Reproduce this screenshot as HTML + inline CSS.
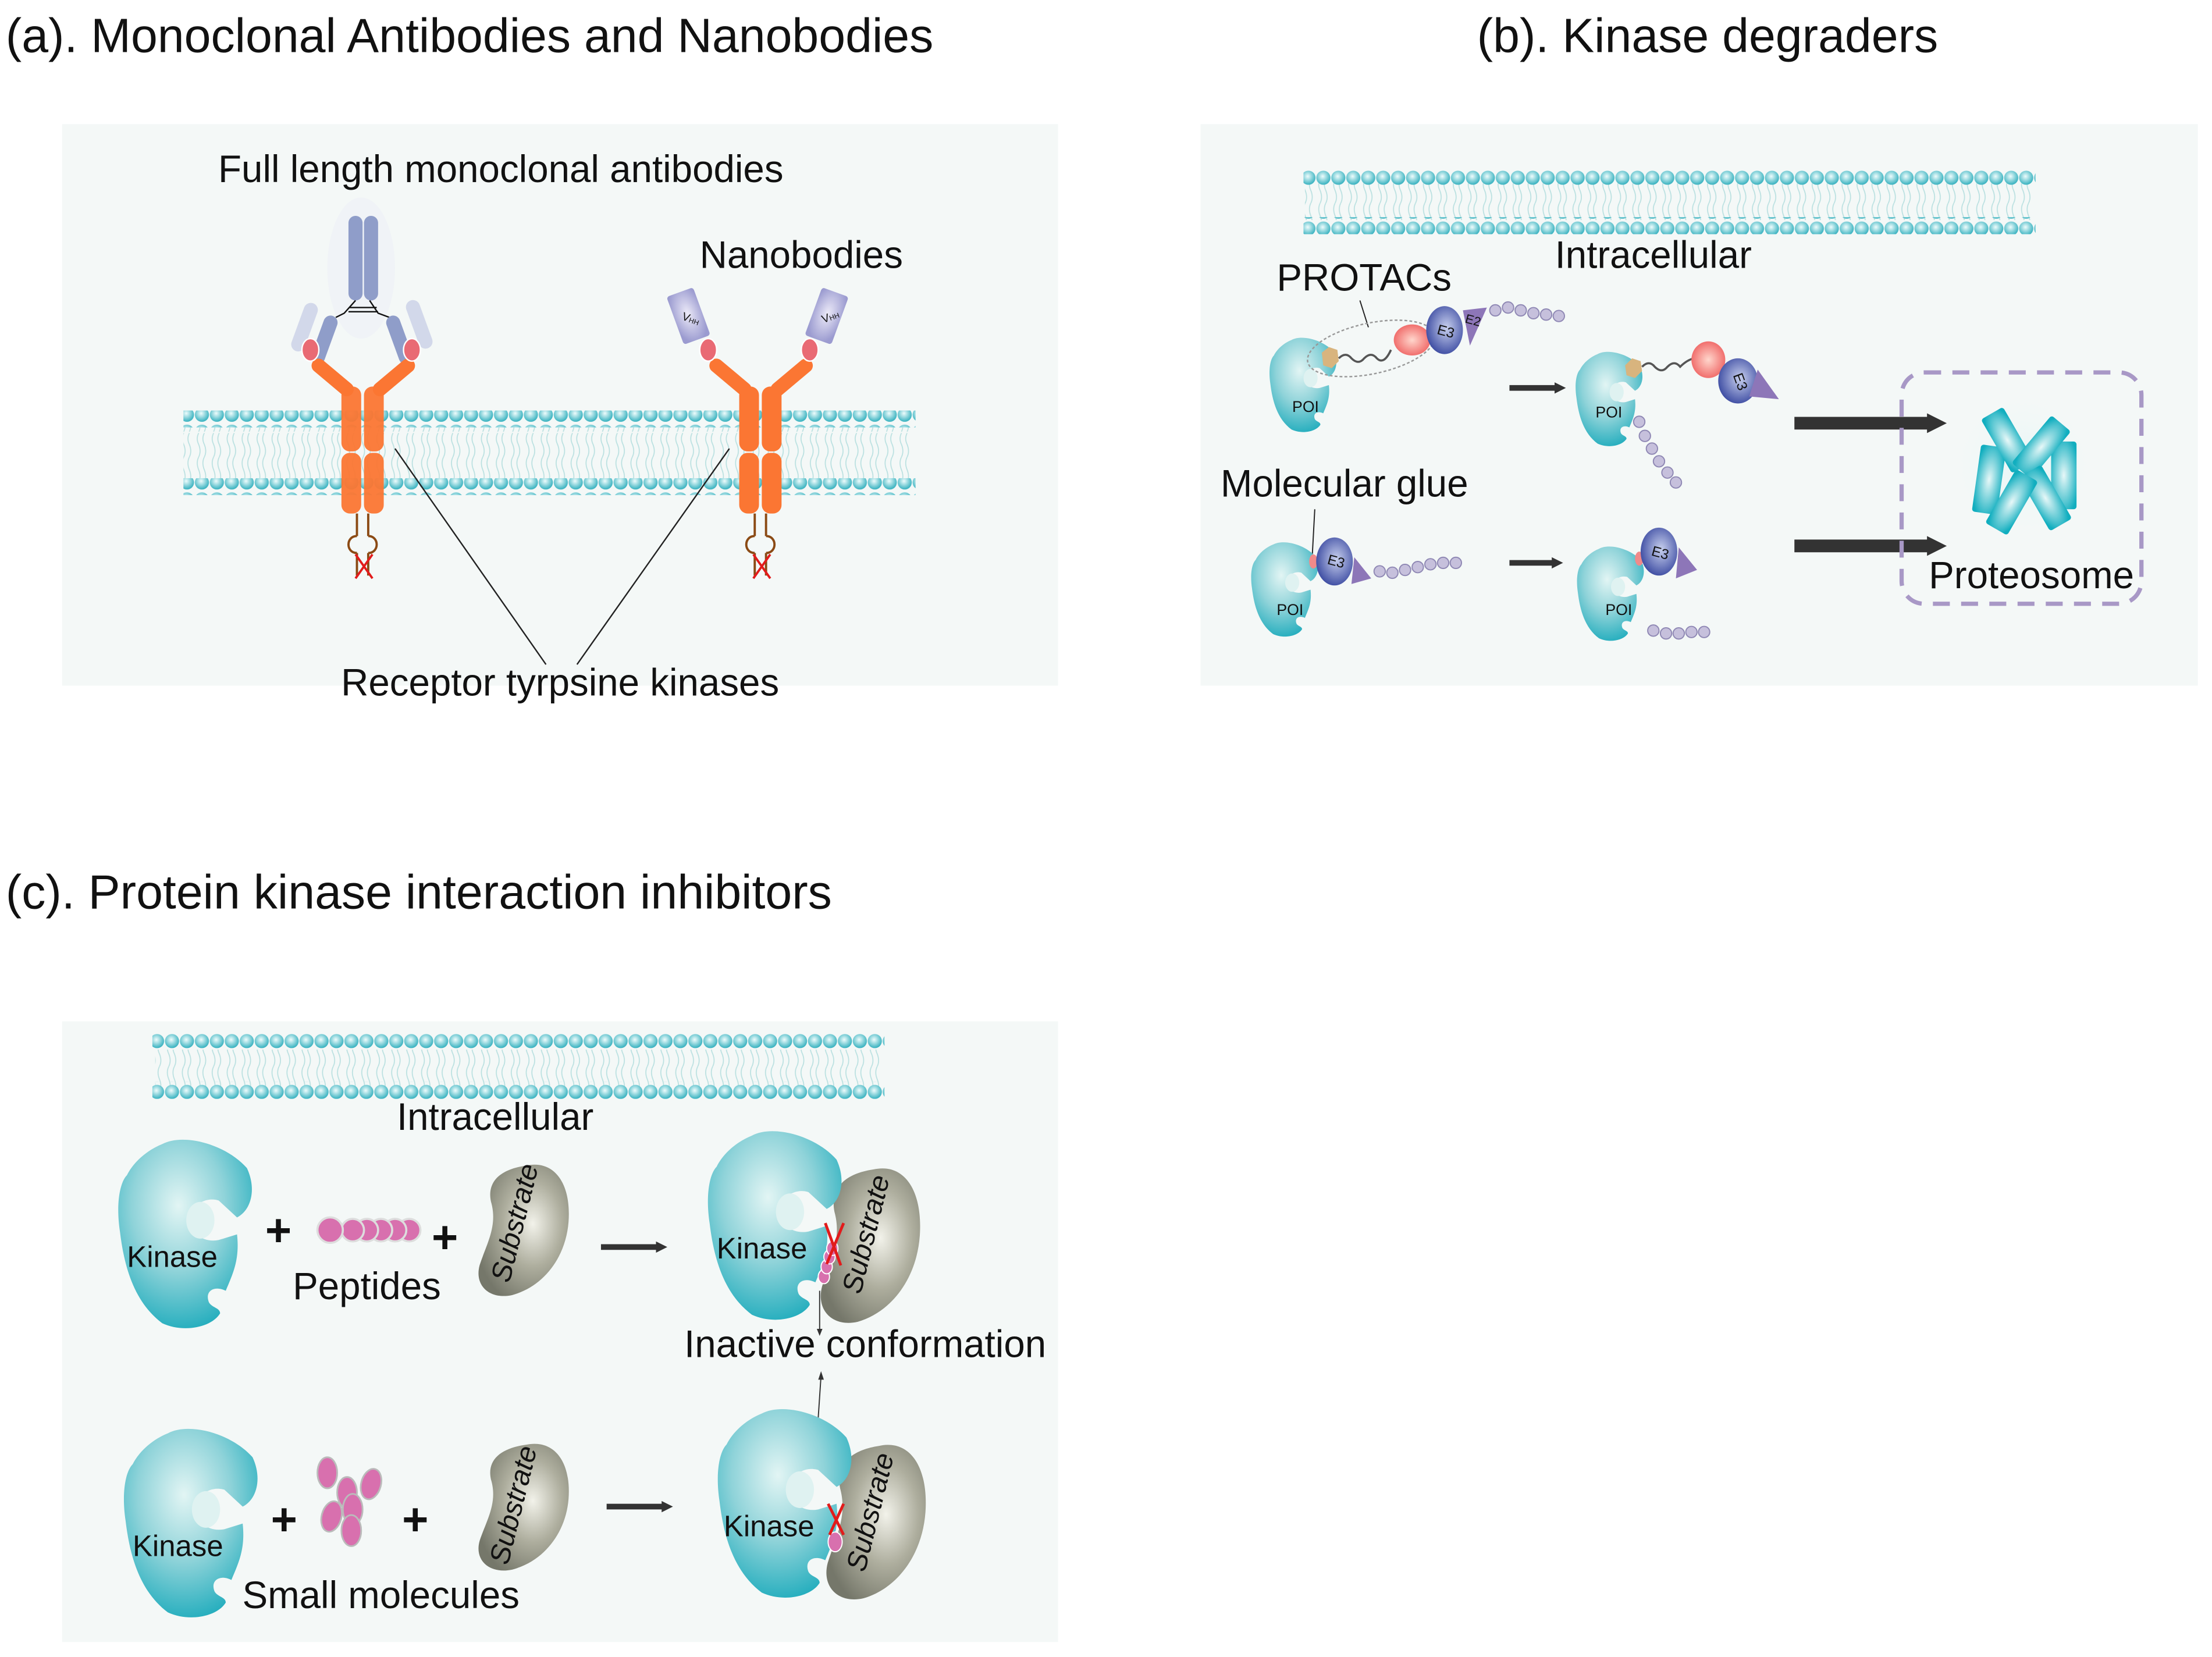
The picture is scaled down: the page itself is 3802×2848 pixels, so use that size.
<!DOCTYPE html>
<html><head><meta charset="utf-8"><style>
html,body{margin:0;padding:0;background:#fff;}
svg{display:block;}
text{font-family:"Liberation Sans",Arial,sans-serif;fill:#111;}
</style></head><body>
<svg width="3802" height="2848" viewBox="0 0 1568 1174.6" xmlns="http://www.w3.org/2000/svg">
<defs>
<radialGradient id="bead" cx="45%" cy="40%" r="60%"><stop offset="0" stop-color="#eefcfc"/><stop offset="1" stop-color="#36b1bf"/></radialGradient>
<radialGradient id="teal" cx="45%" cy="35%" r="70%"><stop offset="0" stop-color="#e2f5f4"/><stop offset="0.5" stop-color="#8fd3d9"/><stop offset="1" stop-color="#1aaabb"/></radialGradient>
<radialGradient id="olive" cx="60%" cy="45%" r="65%"><stop offset="0" stop-color="#f2f2ea"/><stop offset="0.5" stop-color="#aeae9e"/><stop offset="1" stop-color="#75776a"/></radialGradient>
<radialGradient id="e3g" cx="55%" cy="45%" r="65%"><stop offset="0" stop-color="#c8d0ee"/><stop offset="1" stop-color="#2c3c99"/></radialGradient>
<radialGradient id="redg" cx="50%" cy="50%" r="60%"><stop offset="0" stop-color="#ffd6cc"/><stop offset="1" stop-color="#ee5a5a"/></radialGradient>
<radialGradient id="vhh" cx="50%" cy="45%" r="60%"><stop offset="0" stop-color="#eceaf8"/><stop offset="1" stop-color="#9b9bd0"/></radialGradient>
<radialGradient id="cyl" cx="50%" cy="50%" r="60%"><stop offset="0" stop-color="#e8f8f8"/><stop offset="1" stop-color="#11aebf"/></radialGradient>
<radialGradient id="glow" cx="50%" cy="50%" r="50%"><stop offset="0" stop-color="#e6f5f6"/><stop offset="1" stop-color="#f4f9f8" stop-opacity="0"/></radialGradient>
<pattern id="beads" width="10.6" height="12" patternUnits="userSpaceOnUse"><circle cx="5.3" cy="6" r="5" fill="url(#bead)"/></pattern>
<pattern id="tails" width="10.6" height="36" patternUnits="userSpaceOnUse"><path d="M3,0 q-2,4 0,9 q2,5 0,9 M7,0 q-2,4 0,9 q2,5 0,9 M3,19 q-2,4 0,8 q2,5 0,9 M7,19 q-2,4 0,8 q2,5 0,9" fill="none" stroke="#b9e0e0" stroke-width="0.7"/></pattern>
<g id="kin">
<path d="M35,8 C50,0 80,8 95,25 C102,40 98,55 88,60 L75,48 C65,45 55,52 55,62 C55,72 65,78 75,76 L88,72 C90,90 85,100 80,112 C72,108 65,112 68,120 C70,124 76,124 76,128 C70,138 50,142 35,135 C15,120 8,95 5,70 C2,50 5,35 10,30 C15,20 25,12 35,8 Z" fill="url(#teal)"/>
<ellipse cx="62" cy="62" rx="10" ry="13" fill="#dff2f1"/>
</g>
<g id="sub">
<path d="M40,5 C60,0 72,20 70,52 C68,82 52,106 30,113 C14,117 3,105 7,88 C12,70 20,55 15,35 C12,18 22,8 40,5 Z" fill="url(#olive)"/>
</g>
<g id="ub"><circle r="4" fill="#c6c0dc" stroke="#8f88b4" stroke-width="0.8"/></g>
</defs>
<rect width="1568" height="1175" fill="#fff"/>

<!-- titles -->
<text x="4" y="37" font-size="34">(a). Monoclonal Antibodies and Nanobodies</text>
<text x="1047" y="37" font-size="34">(b). Kinase degraders</text>
<text x="4" y="644" font-size="34">(c). Protein kinase interaction inhibitors</text>

<!-- Panel A -->
<rect x="44" y="88" width="706" height="398" fill="#f4f8f7"/>
<rect x="130" y="302" width="515" height="38" fill="url(#tails)"/>
<rect x="130" y="291" width="519" height="12" fill="url(#beads)"/>
<rect x="130" y="339" width="519" height="12" fill="url(#beads)"/>
<text x="355" y="129" font-size="27" text-anchor="middle">Full length monoclonal antibodies</text>
<text x="568" y="190" font-size="27" text-anchor="middle">Nanobodies</text>
<!-- antibody -->
<ellipse cx="256" cy="190" rx="24" ry="50" fill="#e8ecf6" opacity="0.35"/>
<rect x="247" y="153" width="10" height="60" rx="5" fill="#8f9dc9"/>
<rect x="258" y="153" width="10" height="60" rx="5" fill="#8f9dc9"/>
<path d="M252,213 L244,222 L238,225 M262,213 L268,222 L276,225 M248,218 H267 M247,221 H268" stroke="#111" stroke-width="1" fill="none"/>
<rect x="-5" y="0" width="10" height="36" rx="5" fill="#d2d8ea" transform="translate(222,215) rotate(20)"/>
<rect x="-5" y="0" width="10" height="36" rx="5" fill="#8f9dc9" transform="translate(236,224) rotate(20)"/>
<rect x="-5" y="0" width="10" height="36" rx="5" fill="#8f9dc9" transform="translate(277,224) rotate(-20)"/>
<rect x="-5" y="0" width="10" height="36" rx="5" fill="#d2d8ea" transform="translate(291,213) rotate(-20)"/>
<!-- RTK 1 -->
<g>
<rect x="-5" y="0" width="10" height="36" rx="5" fill="#fb7633" transform="translate(222,256) rotate(-50)"/>
<rect x="-5" y="0" width="10" height="36" rx="5" fill="#fb7633" transform="translate(293,256) rotate(50)"/>
<ellipse cx="220" cy="248" rx="6" ry="8" fill="#e96a74" stroke="#fff" stroke-width="1"/>
<ellipse cx="292" cy="248" rx="6" ry="8" fill="#e96a74" stroke="#fff" stroke-width="1"/>
<rect x="242" y="274" width="14" height="46" rx="6" fill="#fb7633" opacity="0.95"/>
<rect x="258" y="274" width="14" height="46" rx="6" fill="#fb7633" opacity="0.95"/>
<rect x="242" y="321" width="14" height="43" rx="6" fill="#fb7633" opacity="0.95"/>
<rect x="258" y="321" width="14" height="43" rx="6" fill="#fb7633" opacity="0.95"/>
<path d="M253,364 V380 M261,364 V380 M253,380 c-8,0 -8,12 0,12 M261,380 c8,0 8,12 0,12 M253,392 V408 M261,392 V408" stroke="#8b4a14" stroke-width="1.6" fill="none"/>
<path d="M252,393 L264,410 M264,393 L252,410" stroke="#e21b1b" stroke-width="1.6"/>
</g>
<!-- RTK 2 -->
<g transform="translate(282,0)">
<rect x="-5" y="0" width="10" height="36" rx="5" fill="#fb7633" transform="translate(222,256) rotate(-50)"/>
<rect x="-5" y="0" width="10" height="36" rx="5" fill="#fb7633" transform="translate(293,256) rotate(50)"/>
<ellipse cx="220" cy="248" rx="6" ry="8" fill="#e96a74" stroke="#fff" stroke-width="1"/>
<ellipse cx="292" cy="248" rx="6" ry="8" fill="#e96a74" stroke="#fff" stroke-width="1"/>
<rect x="242" y="274" width="14" height="46" rx="6" fill="#fb7633"/>
<rect x="258" y="274" width="14" height="46" rx="6" fill="#fb7633"/>
<rect x="242" y="321" width="14" height="43" rx="6" fill="#fb7633"/>
<rect x="258" y="321" width="14" height="43" rx="6" fill="#fb7633"/>
<path d="M253,364 V380 M261,364 V380 M253,380 c-8,0 -8,12 0,12 M261,380 c8,0 8,12 0,12 M253,392 V408 M261,392 V408" stroke="#8b4a14" stroke-width="1.6" fill="none"/>
<path d="M252,393 L264,410 M264,393 L252,410" stroke="#e21b1b" stroke-width="1.6"/>
</g>
<rect x="-10" y="-18" width="20" height="36" rx="2" fill="url(#vhh)" transform="translate(488,224) rotate(-20)"/>
<text x="484" y="228" font-size="8" transform="rotate(20 488 224)">V<tspan font-size="5">HH</tspan></text>
<rect x="-10" y="-18" width="20" height="36" rx="2" fill="url(#vhh)" transform="translate(586,224) rotate(20)"/>
<text x="582" y="228" font-size="8" transform="rotate(-20 586 224)">V<tspan font-size="5">HH</tspan></text>
<line x1="280" y1="318" x2="387" y2="471" stroke="#222" stroke-width="1"/>
<line x1="517" y1="318" x2="409" y2="471" stroke="#222" stroke-width="1"/>
<text x="397" y="493" font-size="27" text-anchor="middle">Receptor  tyrpsine kinases</text>

<!-- Panel B -->
<rect x="851" y="88" width="707" height="398" fill="#f4f8f7"/>
<rect x="925" y="130" width="515" height="26" fill="url(#tails)"/>
<rect x="924" y="119" width="519" height="12" fill="url(#beads)"/>
<rect x="924" y="154" width="519" height="12" fill="url(#beads)"/>
<text x="1172" y="190" font-size="27" text-anchor="middle">Intracellular</text>
<text x="967" y="206" font-size="27" text-anchor="middle">PROTACs</text>
<line x1="964" y1="213" x2="970" y2="232" stroke="#222" stroke-width="0.8"/>
<!-- row 1 -->
<use href="#kin" transform="translate(898,237) scale(0.5)"/>
<text x="916" y="292" font-size="11">POI</text>
<ellipse cx="972" cy="247" rx="46" ry="18" transform="rotate(-12 972 247)" fill="none" stroke="#999" stroke-width="1" stroke-dasharray="2 1.5"/>
<polygon points="937,250 942,246 948,248 949,256 944,261 938,259" fill="#d8b47e"/>
<path d="M949,254 q5,-5 9,0 q5,5 9,0 q5,-5 9,0 q5,5 10,-6" fill="none" stroke="#555" stroke-width="1.5"/>
<ellipse cx="1001" cy="241" rx="13" ry="11" fill="url(#redg)"/>
<ellipse cx="1024" cy="234" rx="13" ry="17" fill="url(#e3g)"/>
<text x="1019" y="238" font-size="10" transform="rotate(15 1024 234)">E3</text>
<polygon points="1037,220 1054,218 1042,245" fill="#8d76b8"/>
<text x="1039" y="230" font-size="9" transform="rotate(15 1044 226)">E2</text>
<use href="#ub" x="1060" y="220"/><use href="#ub" x="1069" y="218"/><use href="#ub" x="1078" y="220"/><use href="#ub" x="1087" y="222"/><use href="#ub" x="1096" y="223"/><use href="#ub" x="1105" y="224"/>
<path d="M1070,275 H1103" stroke="#333" stroke-width="4"/><polygon points="1102,271 1110,275 1102,279" fill="#333"/>
<use href="#kin" transform="translate(1115,247) scale(0.5)"/>
<text x="1131" y="296" font-size="11">POI</text>
<polygon points="1152,259 1157,254 1163,256 1164,263 1159,268 1153,266" fill="#d8b47e"/>
<path d="M1164,260 q5,-5 9,0 q5,5 9,0 q5,-5 9,0 q5,-5 10,-6" fill="none" stroke="#555" stroke-width="1.5"/>
<ellipse cx="1211" cy="255" rx="12" ry="13" fill="url(#redg)"/>
<ellipse cx="1232" cy="270" rx="14" ry="16" fill="url(#e3g)"/>
<text x="1227" y="272" font-size="10" transform="rotate(70 1232 270)">E3</text>
<polygon points="1246,262 1261,283 1240,281" fill="#8d76b8"/>
<use href="#ub" x="1162" y="299"/><use href="#ub" x="1166" y="309"/><use href="#ub" x="1171" y="318"/><use href="#ub" x="1176" y="327"/><use href="#ub" x="1182" y="335"/><use href="#ub" x="1188" y="342"/>
<!-- row 2 -->
<text x="953" y="352" font-size="27" text-anchor="middle">Molecular glue</text>
<line x1="932" y1="361" x2="930" y2="398" stroke="#222" stroke-width="0.8"/>
<use href="#kin" transform="translate(885,382) scale(0.5)"/>
<text x="905" y="436" font-size="11">POI</text>
<ellipse cx="931" cy="398" rx="3" ry="5" fill="#f08a8a"/>
<ellipse cx="946" cy="398" rx="13" ry="17" fill="url(#e3g)"/>
<text x="941" y="401" font-size="10" transform="rotate(15 946 398)">E3</text>
<polygon points="960,395 972,410 958,414" fill="#8d76b8"/>
<use href="#ub" x="978" y="405"/><use href="#ub" x="987" y="406"/><use href="#ub" x="996" y="404"/><use href="#ub" x="1005" y="402"/><use href="#ub" x="1014" y="400"/><use href="#ub" x="1023" y="399"/><use href="#ub" x="1032" y="399"/>
<path d="M1070,399 H1101" stroke="#333" stroke-width="4"/><polygon points="1100,395 1108,399 1100,403" fill="#333"/>
<use href="#kin" transform="translate(1116,385) scale(0.5)"/>
<text x="1138" y="436" font-size="11">POI</text>
<ellipse cx="1162" cy="396" rx="3" ry="5" fill="#f08a8a"/>
<ellipse cx="1176" cy="391" rx="13" ry="17" fill="url(#e3g)"/>
<text x="1171" y="395" font-size="10" transform="rotate(15 1176 391)">E3</text>
<polygon points="1190,388 1203,404 1188,410" fill="#8d76b8"/>
<use href="#ub" x="1172" y="447"/><use href="#ub" x="1181" y="449"/><use href="#ub" x="1190" y="449"/><use href="#ub" x="1199" y="448"/><use href="#ub" x="1208" y="448"/>
<!-- big arrows -->
<path d="M1272,300 H1368" stroke="#333" stroke-width="9"/><polygon points="1366,293 1380,300 1366,307" fill="#333"/>
<path d="M1272,387 H1368" stroke="#333" stroke-width="9"/><polygon points="1366,380 1380,387 1366,394" fill="#333"/>
<circle cx="1434" cy="330" r="55" fill="url(#glow)"/>
<rect x="1348" y="264" width="170" height="164" rx="16" fill="none" stroke="#a898c6" stroke-width="3" stroke-dasharray="12 8"/>
<g>
<rect x="-9" y="-24" width="18" height="48" rx="2" fill="url(#cyl)" transform="translate(1410,340) rotate(8)"/>
<rect x="-9" y="-24" width="18" height="48" rx="2" fill="url(#cyl)" transform="translate(1463,337)"/>
<rect x="-9" y="-22" width="18" height="44" rx="2" fill="url(#cyl)" transform="translate(1423,312) rotate(-30)"/>
<rect x="-9" y="-22" width="18" height="44" rx="2" fill="url(#cyl)" transform="translate(1447,317) rotate(40)"/>
<rect x="-9" y="-22" width="18" height="44" rx="2" fill="url(#cyl)" transform="translate(1450,353) rotate(-30)"/>
<rect x="-9" y="-22" width="18" height="44" rx="2" fill="url(#cyl)" transform="translate(1426,356) rotate(30)"/>
</g>
<text x="1440" y="417" font-size="27" text-anchor="middle">Proteosome</text>

<!-- Panel C -->
<rect x="44" y="724" width="706" height="440" fill="#f4f8f7"/>
<rect x="110" y="744" width="515" height="26" fill="url(#tails)"/>
<rect x="108" y="732" width="519" height="12" fill="url(#beads)"/>
<rect x="108" y="767" width="519" height="12" fill="url(#beads)"/>
<text x="351" y="801" font-size="27" text-anchor="middle">Intracellular</text>
<!-- row 1 -->
<use href="#kin" transform="translate(80,803)"/>
<text x="90" y="898" font-size="21">Kinase</text>
<text x="188" y="883" font-size="32" font-weight="bold">+</text>
<g fill="#d870ae" stroke="#ddd" stroke-width="1.5">
<circle cx="290" cy="872" r="8"/><circle cx="280" cy="872" r="8"/><circle cx="270" cy="872" r="8"/><circle cx="260" cy="872" r="8"/><circle cx="250" cy="872" r="8"/><circle cx="234" cy="872" r="9"/>
</g>
<text x="306" y="888" font-size="32" font-weight="bold">+</text>
<text x="260" y="921" font-size="27" text-anchor="middle">Peptides</text>
<use href="#sub" transform="translate(333,822) scale(1,0.85)"/>
<text x="0" y="0" font-size="20" font-style="italic" transform="translate(361,910) rotate(-76)">Substrate</text>
<path d="M426,884 H466" stroke="#333" stroke-width="4"/><polygon points="465,880 473,884 465,888" fill="#333"/>
<use href="#sub" transform="translate(575,824) scale(1.1,1.0)"/>
<use href="#kin" transform="translate(498,797)"/>
<text x="508" y="892" font-size="21">Kinase</text>
<text x="0" y="0" font-size="20" font-style="italic" transform="translate(610,918) rotate(-76)">Substrate</text>
<g fill="#d870ae" stroke="#fff" stroke-width="0.8"><ellipse cx="584" cy="905" rx="4" ry="5"/><ellipse cx="586" cy="898" rx="4" ry="5"/><ellipse cx="588" cy="891" rx="4" ry="5"/><ellipse cx="590" cy="885" rx="4" ry="5"/></g>
<path d="M585,867 L596,897 M598,867 L586,896" stroke="#e21b1b" stroke-width="2"/>
<line x1="581" y1="915" x2="581" y2="945" stroke="#333" stroke-width="0.8"/><polygon points="579,942 581,947 583,942" fill="#333"/>
<text x="485" y="962" font-size="27">Inactive conformation</text>
<line x1="580" y1="1005" x2="582" y2="975" stroke="#333" stroke-width="0.8"/><polygon points="580,978 582,972 584,978" fill="#333"/>
<!-- row 2 -->
<use href="#kin" transform="translate(84,1008)"/>
<text x="94" y="1103" font-size="21">Kinase</text>
<text x="192" y="1088" font-size="32" font-weight="bold">+</text>
<g fill="#d870ae" stroke="#bbb" stroke-width="1.2">
<ellipse cx="232" cy="1044" rx="7" ry="11"/><ellipse cx="246" cy="1058" rx="7" ry="11"/><ellipse cx="263" cy="1052" rx="7" ry="11" transform="rotate(15 263 1052)"/><ellipse cx="250" cy="1070" rx="7" ry="11"/><ellipse cx="235" cy="1075" rx="7" ry="11" transform="rotate(15 235 1075)"/><ellipse cx="249" cy="1085" rx="7" ry="11"/>
</g>
<text x="285" y="1088" font-size="32" font-weight="bold">+</text>
<use href="#sub" transform="translate(333,1020) scale(1,0.82)"/>
<text x="0" y="0" font-size="20" font-style="italic" transform="translate(360,1110) rotate(-76)">Substrate</text>
<text x="270" y="1140" font-size="27" text-anchor="middle">Small molecules</text>
<path d="M430,1068 H470" stroke="#333" stroke-width="4"/><polygon points="469,1064 477,1068 469,1072" fill="#333"/>
<use href="#sub" transform="translate(579,1020) scale(1.1,1.0)"/>
<use href="#kin" transform="translate(505,994)"/>
<text x="513" y="1089" font-size="21">Kinase</text>
<text x="0" y="0" font-size="20" font-style="italic" transform="translate(613,1115) rotate(-76)">Substrate</text>
<ellipse cx="592" cy="1093" rx="5" ry="7" fill="#d870ae" stroke="#fff" stroke-width="0.8"/>
<path d="M587,1066 L598,1088 M598,1066 L588,1088" stroke="#e21b1b" stroke-width="2"/>
</svg>
</body></html>
